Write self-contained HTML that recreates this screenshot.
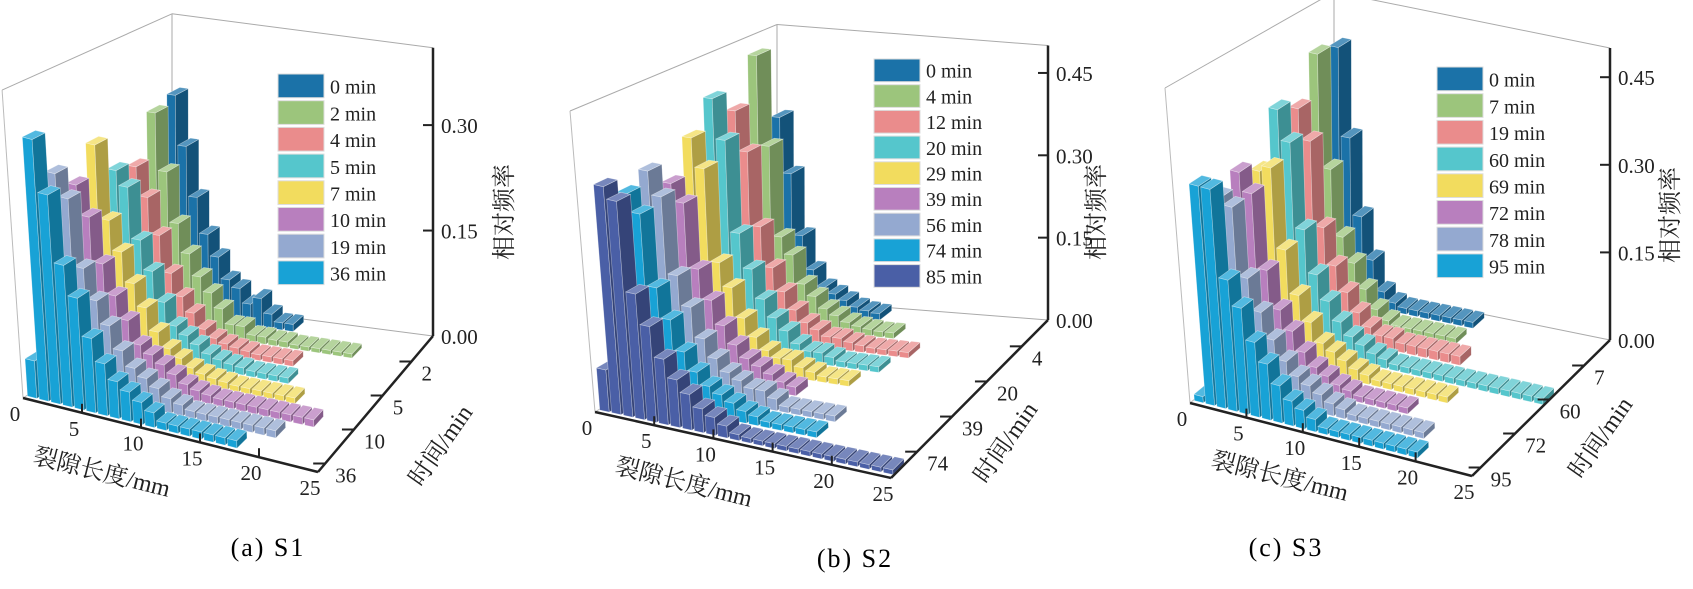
<!DOCTYPE html>
<html><head><meta charset="utf-8">
<style>
html,body{margin:0;padding:0;background:#fff;}
svg{display:block;font-family:"Liberation Serif","Noto Serif CJK SC",serif;}
</style></head>
<body>
<svg id="fig" width="1693" height="589" viewBox="0 0 1693 589" xmlns="http://www.w3.org/2000/svg">
<text x="268" y="556" font-size="26" letter-spacing="2" text-anchor="middle" font-family="Liberation Serif, serif">(a) S1</text>
<text x="855" y="567" font-size="26" letter-spacing="2" text-anchor="middle" font-family="Liberation Serif, serif">(b) S2</text>
<text x="1286" y="556" font-size="26" letter-spacing="2" text-anchor="middle" font-family="Liberation Serif, serif">(c) S3</text>
</svg>
<script>
// ---------- data ----------
const a_series = ["0 min","2 min","4 min","5 min","7 min","10 min","19 min","36 min"];
const a_timeTicks = ["2","5","10","36"];
const a_zTicks = [0.00,0.15,0.30];
const a_v0 = [0.02,0.31,0.24,0.17,0.12,0.09,0.06,0.05,0.03,0.04,0.02,0.01,0.01];
const a_v1 = [0.01,0.30,0.22,0.15,0.11,0.08,0.06,0.04,0.02,0.02,0.01,0.01,0.008,0.008,0.006,0.006,0.006,0.006,0.006,0.006];
const a_v2 = [0.01,0.24,0.20,0.15,0.10,0.07,0.05,0.03,0.02,0.015,0.012,0.01,0.008,0.008,0.008,0.008];
const a_v3 = [0.01,0.25,0.23,0.16,0.12,0.08,0.05,0.04,0.03,0.02,0.015,0.012,0.01,0.008,0.008,0.008,0.008];
const a_v4 = [0.01,0.30,0.20,0.16,0.12,0.09,0.06,0.04,0.03,0.02,0.015,0.012,0.01,0.008,0.008,0.008,0.008,0.008,0.008];
const a_v5 = [0.01,0.26,0.22,0.16,0.12,0.09,0.06,0.05,0.04,0.03,0.02,0.015,0.012,0.01,0.01,0.01,0.01,0.01,0.01,0.01,0.01,0.01];
const a_v6 = [0.01,0.29,0.26,0.17,0.13,0.10,0.07,0.05,0.04,0.03,0.02,0.015,0.01,0.01,0.01,0.01,0.01,0.01,0.01,0.01];
const a_v7 = [0.05,0.35,0.28,0.19,0.15,0.10,0.07,0.05,0.04,0.03,0.02,0.01,0.01,0.01,0.01,0.01,0.01,0.01];

const b_series = ["0 min","4 min","12 min","20 min","29 min","39 min","56 min","74 min","85 min"];
const b_timeTicks = ["4","20","39","74"];
const b_zTicks = [0.00,0.15,0.30,0.45];
const b_v0 = [0.01,0.35,0.25,0.14,0.08,0.05,0.04,0.03,0.02,0.015,0.012];
const b_v1 = [0.01,0.48,0.32,0.16,0.13,0.08,0.06,0.04,0.03,0.02,0.015,0.012,0.01,0.01];
const b_v2 = [0.01,0.40,0.33,0.20,0.13,0.09,0.06,0.04,0.03,0.02,0.02,0.015,0.012,0.01,0.01,0.01,0.01];
const b_v3 = [0.01,0.44,0.37,0.21,0.15,0.10,0.07,0.05,0.03,0.02,0.02,0.015,0.01,0.01,0.01,0.01];
const b_v4 = [0.01,0.39,0.34,0.18,0.14,0.09,0.06,0.04,0.03,0.03,0.02,0.015,0.01,0.01,0.01];
const b_v5 = [0.01,0.33,0.30,0.19,0.14,0.10,0.07,0.05,0.04,0.03,0.02,0.015];
const b_v6 = [0.01,0.37,0.33,0.20,0.15,0.10,0.07,0.05,0.04,0.03,0.03,0.02,0.01,0.01,0.01,0.01,0.01];
const b_v7 = [0.01,0.35,0.32,0.20,0.15,0.10,0.07,0.05,0.04,0.03,0.02,0.015,0.01,0.01,0.01,0.01,0.01];
const b_v8 = [0.07,0.38,0.36,0.21,0.16,0.11,0.08,0.06,0.04,0.03,0.02,0.01,0.008,0.008,0.008,0.008,0.008,0.008,0.008,0.008,0.008,0.008,0.008,0.008,0.008];

const c_series = ["0 min","7 min","19 min","60 min","69 min","72 min","78 min","95 min"];
const c_timeTicks = ["7","60","72","95"];
const c_zTicks = [0.00,0.15,0.30,0.45];
const c_v0 = [0.01,0.43,0.28,0.15,0.08,0.03,0.015,0.01,0.01,0.01,0.01,0.01,0.01,0.01];
const c_v1 = [0.01,0.44,0.25,0.14,0.10,0.06,0.03,0.015,0.01,0.01,0.01,0.01,0.01,0.01];
const c_v2 = [0.01,0.37,0.32,0.18,0.12,0.08,0.05,0.03,0.02,0.02,0.015,0.015,0.015,0.015,0.015,0.015];
const c_v3 = [0.01,0.39,0.34,0.20,0.13,0.09,0.06,0.04,0.03,0.02,0.015,0.01,0.01,0.01,0.01,0.01,0.01,0.01,0.01,0.01,0.01,0.01,0.01,0.01,0.01];
const c_v4 = [0.01,0.31,0.32,0.19,0.12,0.08,0.05,0.04,0.03,0.02,0.015,0.01,0.01,0.01,0.01,0.01,0.01,0.01];
const c_v5 = [0.01,0.33,0.30,0.18,0.12,0.09,0.06,0.04,0.03,0.02,0.015,0.01,0.01,0.01,0.01,0.01];
const c_v6 = [0.01,0.31,0.30,0.19,0.14,0.10,0.07,0.05,0.04,0.03,0.02,0.015,0.01,0.01,0.01,0.01,0.01,0.01,0.01];
const c_v7 = [0.01,0.35,0.35,0.21,0.17,0.12,0.09,0.06,0.04,0.03,0.02,0.01,0.01,0.01,0.01,0.01,0.01,0.01,0.01,0.01];

const xTicks = [0,5,10,15,20,25];

// ---------- rendering ----------
const NS = "http://www.w3.org/2000/svg";
const svg = document.getElementById('fig');
const colA = ["#1b72a8","#9cc57c","#ea8c8c","#55c6cc","#f2dc5e","#b87fbe","#94a9d0","#18a2d6"];
const colB = ["#1b72a8","#9cc57c","#ea8c8c","#55c6cc","#f2dc5e","#b87fbe","#94a9d0","#18a2d6","#4a5fa6"];

function shade(hex,f){
  let r=parseInt(hex.substr(1,2),16),g=parseInt(hex.substr(3,2),16),b=parseInt(hex.substr(5,2),16);
  if(f<1){r*=f;g*=f;b*=f;} else {r=r+(255-r)*(f-1);g=g+(255-g)*(f-1);b=b+(255-b)*(f-1);}
  return "rgb("+Math.round(r)+","+Math.round(g)+","+Math.round(b)+")";
}
function mk(tag,attrs,parent){
  const e=document.createElementNS(NS,tag);
  for(const k in attrs) e.setAttribute(k,attrs[k]);
  (parent||svg).appendChild(e); return e;
}

function panel(id,G,series,values,colors,timeTicks,zTicks,legend,labels){
  const g=mk('g',{});
  
  
  const N=series.length;
  function lerp(a,b,t){return [a[0]+(b[0]-a[0])*t,a[1]+(b[1]-a[1])*t];}
  function bil(A,B,C,D,u,v){
    const f=lerp(A,B,u), bk=lerp(C,D,u); return lerp(f,bk,v);
  }
  function P(len,dep,z){
    const u=len/25, v=dep/N;
    const fl=bil(G.FL,G.FR,G.BL,G.BR,u,v);
    const up=bil(G.uFL,G.uFR,G.uBL,G.uBR,u,v);
    return [fl[0]+up[0]*z, fl[1]+up[1]*z];
  }
  function line(p,q,st,w,name){
    const l=mk('line',{x1:p[0],y1:p[1],x2:q[0],y2:q[1],stroke:st,'stroke-width':w},g);
    
    
  }
  const zt=G.zTop;
  line(P(0,0,zt),P(0,N,zt),"#aaa",1,'left-wall-top-edge');
  line(P(0,N,zt),P(25,N,zt),"#aaa",1,'back-wall-top-edge');
  line(P(0,N,0),P(0,N,zt),"#aaa",1,'back-wall-left-edge');
  line(P(0,N,0),P(25,N,0),"#aaa",1,'back-floor-edge');
  line(P(0,0,0),P(0,0,zt),"#bbb",1,'left-wall-front-edge');
  line(P(0,0,0),P(0,N,0),"#bbb",1,'left-floor-edge');
  for(let i=0;i<N;i++){
    const vals=values[i], c=colors[i];
    const dc=N-i-0.5, d0=dc-0.32, d1=dc+0.32;
    for(let k=0;k<vals.length;k++){
      const h=vals[k], l0=k+0.1, l1=k+0.9;
      const bar=mk('g',{},g);
      
      
      const faces=[
        [[l0,d0,0],[l1,d0,0],[l1,d0,h],[l0,d0,h],shade(c,1)],
        [[l1,d0,0],[l1,d1,0],[l1,d1,h],[l1,d0,h],shade(c,0.72)],
        [[l0,d0,h],[l1,d0,h],[l1,d1,h],[l0,d1,h],shade(c,1.25)]
      ];
      faces.forEach(f=>{
        const pts=f.slice(0,4).map(q=>P(q[0],q[1],q[2]).map(n=>n.toFixed(1)).join(',')).join(' ');
        mk('polygon',{points:pts,fill:f[4],stroke:"rgba(255,255,255,0.45)","stroke-width":0.6},bar);
      });
    }
  }
  line(P(0,0,0),P(25,0,0),"#222",2.5,'x-axis');
  line(P(25,0,0),P(25,N,0),"#222",2.5,'time-axis');
  line(P(25,N,0),P(25,N,zt),"#222",2.5,'z-axis');
  xTicks.forEach(t=>{
    const p=P(t,0,0);
    if(t>0&&t<25) line(p,[p[0],p[1]-9],"#222",2,'x-tick-'+t);
    const tx=mk('text',{x:p[0]-8,y:p[1]+23,'font-size':21,'text-anchor':'middle',fill:'#222'},g);
    
    
    tx.textContent=t;
  });
  timeTicks.forEach((t,j)=>{
    const idx=2*j+1; const p=P(25,N-idx-0.5,0);
    line([p[0]-12,p[1]],p,"#222",2,'time-tick-'+t);
    const tx=mk('text',{x:p[0]+10,y:p[1]+19,'font-size':21,fill:'#222'},g);
    
    
    tx.textContent=t;
  });
  zTicks.forEach(t=>{
    const p=P(25,N,t);
    if(t>0) line([p[0]-10,p[1]],p,"#222",2,'z-tick-'+t);
    const tx=mk('text',{x:p[0]+8,y:p[1]+8,'font-size':21,fill:'#222'},g);
    
    
    tx.textContent=t.toFixed(2);
  });
  series.forEach((s,i)=>{
    const y=legend.y+i*legend.step;
    const r=mk('rect',{x:legend.x,y:y,width:46,height:legend.step-3,fill:colors[i],stroke:"#ddd","stroke-width":1},g);
    
    
    const tx=mk('text',{x:legend.x+52,y:y+legend.step-7,'font-size':20,fill:'#222'},g);
    
    
    tx.textContent=s;
  });
  const zt1=mk('text',{x:0,y:0,'font-size':24,'text-anchor':'middle',transform:'translate('+labels.z[0]+','+labels.z[1]+') rotate(-90)',fill:'#222'},g);
  
  
  zt1.textContent='相对频率';
  const tt=mk('text',{x:0,y:0,'font-size':24,'text-anchor':'middle',transform:'translate('+labels.t[0]+','+labels.t[1]+') rotate(-55)',fill:'#222'},g);
  
  
  tt.textContent='时间/min';
  const xt=mk('text',{x:0,y:0,'font-size':24,'text-anchor':'middle',transform:'translate('+labels.x[0]+','+labels.x[1]+') rotate(14)',fill:'#222'},g);
  
  
  xt.textContent='裂隙长度/mm';
}

panel('a',{FL:[23,398],FR:[318,472],BL:[172,302],BR:[433,336],uFL:[-51,-751],uFR:[-20,-730],uBL:[0,-703],uBR:[0,-703],zTop:0.41},
  a_series,[a_v0,a_v1,a_v2,a_v3,a_v4,a_v5,a_v6,a_v7],colA,a_timeTicks,a_zTicks,
  {x:278,y:74,step:26.7},{z:[512,212],t:[447,450],x:[100,480]});
panel('b',{FL:[595,412],FR:[891,478],BL:[777,299],BR:[1048,320],uFL:[-50,-602],uFR:[-20,-590],uBL:[0,-549],uBR:[0,-549],zTop:0.50},
  b_series,[b_v0,b_v1,b_v2,b_v3,b_v4,b_v5,b_v6,b_v7,b_v8],colB,b_timeTicks,b_zTicks,
  {x:874,y:59,step:25.7},{z:[1104,212],t:[1012,447],x:[682,490]});
panel('c',{FL:[1190,403],FR:[1472,476],BL:[1334,284],BR:[1610,340],uFL:[-50,-630],uFR:[-20,-610],uBL:[0,-584],uBR:[0,-584],zTop:0.50},
  c_series,[c_v0,c_v1,c_v2,c_v3,c_v4,c_v5,c_v6,c_v7],colA,c_timeTicks,c_zTicks,
  {x:1437,y:67,step:26.7},{z:[1678,215],t:[1607,442],x:[1278,484]});
</script>
</body></html>
